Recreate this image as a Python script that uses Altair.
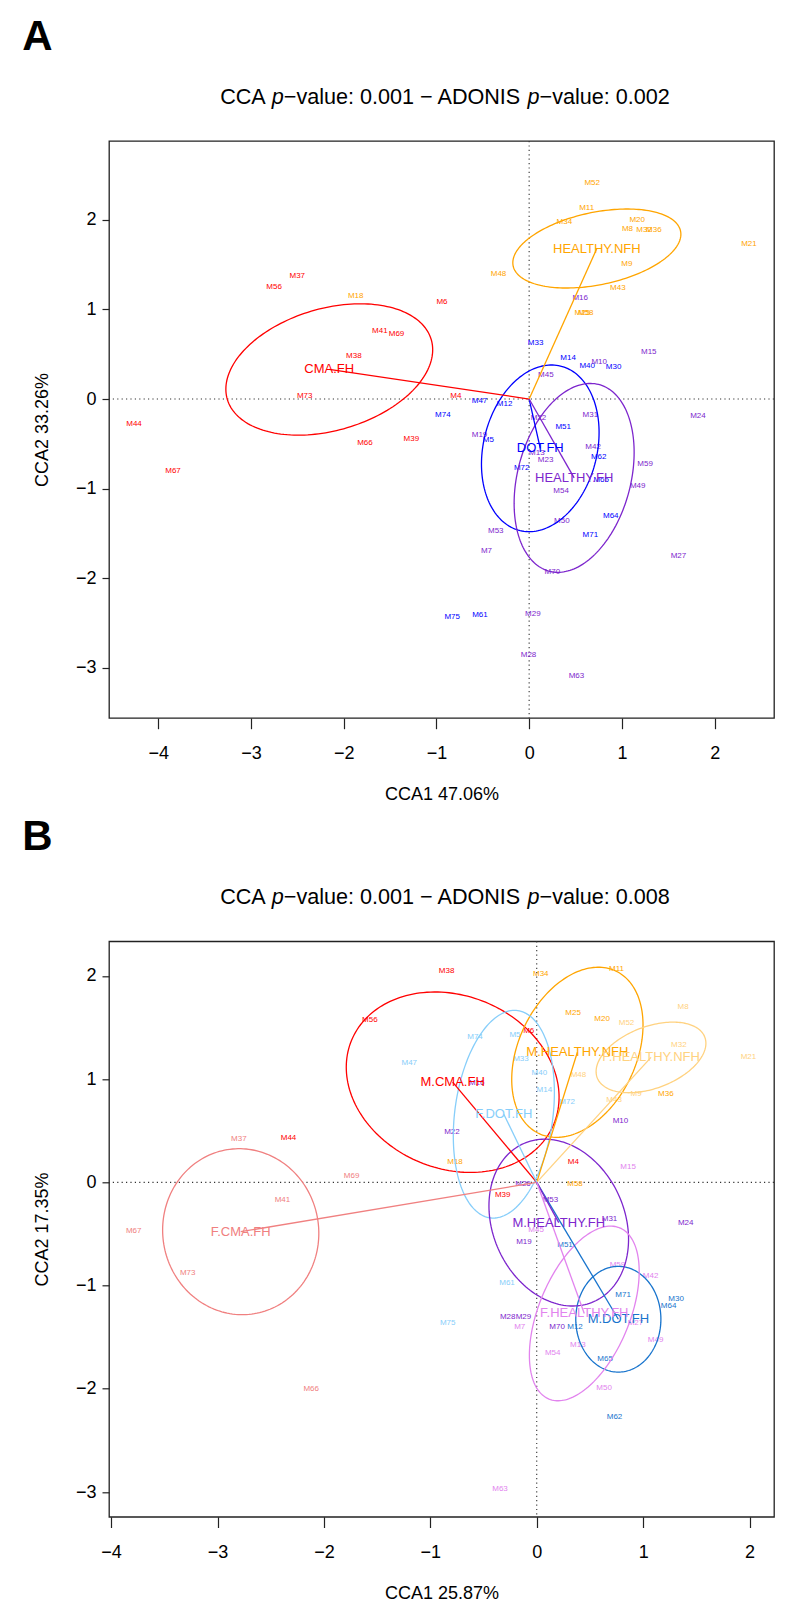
import altair as alt
import numpy as np
import pandas as pd

FONT = "Liberation Sans"

# ----------------------------------------------------------------------
# Panel A : four groups
# ----------------------------------------------------------------------
a_cma_names = ["M37", "M56", "M6", "M41", "M69", "M38", "M73", "M44", "M67", "M66", "M39", "M4"]
a_cma_x = [-2.50, -2.75, -0.94, -1.61, -1.43, -1.89, -2.42, -4.26, -3.84, -1.77, -1.27, -0.79]
a_cma_y = [1.37, 1.25, 1.08, 0.76, 0.73, 0.48, 0.03, -0.28, -0.80, -0.49, -0.45, 0.03]

a_nfh_names = ["M18", "M52", "M11", "M34", "M20", "M8", "M32", "M36", "M21", "M9", "M48", "M43", "M25", "M58"]
a_nfh_x = [-1.87, 0.68, 0.62, 0.38, 1.165, 1.06, 1.24, 1.345, 2.37, 1.054, -0.33, 0.957, 0.574, 0.61]
a_nfh_y = [1.15, 2.41, 2.13, 1.98, 2.00, 1.90, 1.885, 1.885, 1.735, 1.51, 1.40, 1.24, 0.96, 0.96]

a_dot_names = ["M33", "M14", "M40", "M30", "M47", "M12", "M74", "M5", "M51", "M62", "M72", "M65",
               "M64", "M71", "M75", "M61"]
a_dot_x = [0.07, 0.42, 0.626, 0.91, -0.535, -0.265, -0.93, -0.44, 0.367, 0.75, -0.08, 0.777,
           0.88, 0.66, -0.83, -0.53]
a_dot_y = [0.625, 0.455, 0.37, 0.357, -0.026, -0.056, -0.18, -0.46, -0.31, -0.65, -0.77, -0.905,
           -1.30, -1.516, -2.43, -2.41]

a_hfh_names = ["M16", "M10", "M15", "M45", "M24", "M31", "M22", "M19", "M13", "M23", "M42", "M59",
               "M49", "M54", "M50", "M53", "M7", "M27", "M70", "M29", "M28", "M63"]
a_hfh_x = [0.55, 0.755, 1.29, 0.18, 1.82, 0.66, 0.10, -0.535, 0.083, 0.177, 0.69, 1.25,
           1.17, 0.345, 0.353, -0.36, -0.46, 1.61, 0.25, 0.04, -0.007, 0.51]
a_hfh_y = [1.13, 0.417, 0.525, 0.265, -0.19, -0.18, -0.21, -0.40, -0.60, -0.68, -0.53, -0.726,
           -0.97, -1.025, -1.36, -1.47, -1.70, -1.754, -1.93, -2.40, -2.86, -3.09]

# group centroid, half x-extent, half y-extent and correlation of each ellipse
a_groups = ["CMA.FH", "HEALTHY.NFH", "DOT.FH", "HEALTHY.FH"]
a_colors = ["#FF0000", "#FFA500", "#0000FF", "#7D26CD"]
a_cx = [-2.155, 0.73, 0.12, 0.485]
a_cy = [0.33, 1.68, -0.55, -0.88]
a_hx = [1.115, 0.906, 0.634, 0.647]
a_hy = [0.733, 0.441, 0.93, 1.054]
a_r = [0.30, 0.36, 0.19, 0.27]

# ----------------------------------------------------------------------
# Panel B : eight groups (split by sex)
# ----------------------------------------------------------------------
b_mcma_names = ["M38", "M56", "M6", "M44", "M39", "M4"]
b_mcma_x = [-0.847, -1.568, -0.075, -2.333, -0.32, 0.345]
b_mcma_y = [2.045, 1.573, 1.47, 0.433, -0.12, 0.197]

b_fcma_names = ["M37", "M69", "M41", "M67", "M73", "M66"]
b_fcma_x = [-2.80, -1.74, -2.39, -3.788, -3.28, -2.12]
b_fcma_y = [0.423, 0.058, -0.174, -0.475, -0.879, -2.003]

b_mnfh_names = ["M34", "M11", "M25", "M20", "M36", "M18", "M58"]
b_mnfh_x = [0.038, 0.75, 0.342, 0.614, 1.214, -0.768, 0.36]
b_mnfh_y = [2.02, 2.064, 1.638, 1.58, 0.853, 0.194, -0.02]

b_fnfh_names = ["M52", "M8", "M32", "M21", "M48", "M43", "M9"]
b_fnfh_x = [0.844, 1.376, 1.336, 1.99, 0.392, 0.727, 0.934]
b_fnfh_y = [1.547, 1.70, 1.33, 1.21, 1.04, 0.80, 0.853]

b_fdot_names = ["M74", "M5", "M33", "M47", "M40", "M14", "M72", "M61", "M75"]
b_fdot_x = [-0.58, -0.204, -0.148, -1.198, 0.025, 0.072, 0.285, -0.279, -0.837]
b_fdot_y = [1.408, 1.427, 1.19, 1.156, 1.056, 0.894, 0.778, -0.979, -1.36]

b_mdot_names = ["M51", "M71", "M30", "M64", "M12", "M65", "M62"]
b_mdot_x = [0.266, 0.812, 1.31, 1.239, 0.36, 0.643, 0.731]
b_mdot_y = [-0.604, -1.088, -1.134, -1.20, -1.405, -1.712, -2.277]

b_mhfh_names = ["M16", "M10", "M22", "M26", "M53", "M31", "M19", "M24", "M28", "M29", "M70"]
b_mhfh_x = [-0.564, 0.787, -0.797, -0.129, 0.129, 0.684, -0.12, 1.40, -0.273, -0.125, 0.191]
b_mhfh_y = [0.962, 0.59, 0.484, -0.016, -0.168, -0.352, -0.578, -0.397, -1.308, -1.30, -1.405]

b_fhfh_names = ["M15", "M45", "M59", "M42", "M27", "M7", "M49", "M13", "M54", "M50", "M63"]
b_fhfh_x = [0.859, -0.006, 0.759, 1.07, 0.928, -0.16, 1.117, 0.386, 0.15, 0.633, -0.345]
b_fhfh_y = [0.148, -0.458, -0.80, -0.908, -1.363, -1.40, -1.525, -1.58, -1.65, -1.993, -2.975]

b_groups = ["M.CMA.FH", "F.CMA.FH", "M.HEALTHY.NFH", "F.HEALTHY.NFH",
            "F.DOT.FH", "M.DOT.FH", "M.HEALTHY.FH", "F.HEALTHY.FH"]
b_colors = ["#FF0000", "#F08080", "#FFA500", "#FFD280",
            "#87CEFA", "#1874CD", "#7D26CD", "#E284EE"]
b_cx = [-0.79, -2.782, 0.382, 1.074, -0.309, 0.767, 0.207, 0.447]
b_cy = [0.97, -0.478, 1.26, 1.21, 0.66, -1.326, -0.39, -1.27]
b_hx = [1.0, 0.734, 0.617, 0.516, 0.475, 0.40, 0.656, 0.516]
b_hy = [0.874, 0.804, 0.824, 0.342, 1.006, 0.512, 0.808, 0.846]
b_r = [-0.166, -0.02, 0.32, 0.40, 0.21, 0.0, -0.20, 0.48]


def samples_frame(parts):
    rows = []
    for group, names, xs, ys in parts:
        for n, x, y in zip(names, xs, ys):
            rows.append({"label": n, "x": x, "y": y, "group": group})
    return pd.DataFrame(rows)


def ellipse_frame(groups, cx, cy, hx, hy, r, n=181):
    t = np.linspace(0, 2 * np.pi, n)
    rows = []
    for g, x0, y0, a, b, rho in zip(groups, cx, cy, hx, hy, r):
        ex = x0 + a * np.cos(t)
        ey = y0 + b * (rho * np.cos(t) + np.sqrt(1 - rho ** 2) * np.sin(t))
        for i, (px, py) in enumerate(zip(ex, ey)):
            rows.append({"group": g, "i": i, "x": px, "y": py})
    return pd.DataFrame(rows)


def spider_frame(groups, cx, cy):
    rows = []
    for g, x0, y0 in zip(groups, cx, cy):
        rows.append({"group": g, "i": 0, "x": 0.0, "y": 0.0})
        rows.append({"group": g, "i": 1, "x": x0, "y": y0})
    return pd.DataFrame(rows)


# Liberation Sans advance widths (1/1000 em) for the title pieces
WIDTHS = {" ": 278, "C": 722, "A": 667, "p": 556, "\u2212": 584, "v": 500, "a": 556, "l": 222,
          "u": 556, "e": 556, ":": 278, "0": 556, "1": 556, "2": 556, "8": 556, ".": 278,
          "D": 722, "O": 778, "N": 722, "I": 278, "S": 667}


def text_width(s, size):
    return sum(WIDTHS[c] for c in s) / 1000 * size


def title_layers(adonis_p, center_x, y, size):
    parts = [("CCA ", "normal"), ("p", "italic"),
             ("\u2212value: 0.001 \u2212 ADONIS ", "normal"), ("p", "italic"),
             ("\u2212value: " + adonis_p, "normal")]
    total = sum(text_width(s, size) for s, _ in parts)
    x = center_x - total / 2
    layers = []
    one = pd.DataFrame({"k": [0]})
    for s, style in parts:
        layers.append(
            alt.Chart(one).mark_text(text=s.strip(), font=FONT, fontSize=size, fontStyle=style,
                                     align="left", baseline="middle", color="black")
            .encode(x=alt.value(x), y=alt.value(y))
        )
        x += text_width(s, size)
    return layers


def panel(samples, groups, colors, cx, cy, hx, hy, r, xdom, ydom, xtitle, ytitle,
          letter, adonis_p, w, h):
    xs = alt.Scale(domain=xdom, nice=False, zero=False)
    ys = alt.Scale(domain=ydom, nice=False, zero=False)
    cs = alt.Scale(domain=groups, range=colors)
    xaxis = alt.Axis(values=list(range(-4, 3)), format="d", grid=False, domain=False,
                     tickSize=10.7, tickColor="#222", tickWidth=1.2,
                     labelFont=FONT, labelFontSize=18, labelPadding=15.5, labelColor="black",
                     labelFlush=False, labelOverlap=False,
                     title=xtitle, titleFont=FONT, titleFontSize=18, titleFontWeight="normal",
                     titlePadding=23, titleColor="black")
    yaxis = alt.Axis(values=list(range(-3, 3)), format="d", grid=False, domain=False,
                     tickSize=7, tickColor="#222", tickWidth=1.2,
                     labelFont=FONT, labelFontSize=18, labelPadding=6, labelColor="black",
                     labelAngle=0, labelFlush=False, labelOverlap=False,
                     title=ytitle, titleFont=FONT, titleFontSize=18, titleFontWeight="normal",
                     titlePadding=24, titleColor="black")
    X = alt.X("x:Q", scale=xs, axis=xaxis)
    Y = alt.Y("y:Q", scale=ys, axis=yaxis)
    color = alt.Color("group:N", scale=cs, legend=None)

    zero = pd.DataFrame({"x": [0.0], "y": [0.0]})
    vline = alt.Chart(zero).mark_rule(color="#333", strokeDash=[1.2, 3.2], strokeWidth=1.1).encode(x=X)
    hline = alt.Chart(zero).mark_rule(color="#333", strokeDash=[1.2, 3.2], strokeWidth=1.1).encode(y=Y)

    pts = alt.Chart(samples).mark_text(font=FONT, fontSize=8).encode(
        x=X, y=Y, text="label:N", color=color)

    ell = alt.Chart(ellipse_frame(groups, cx, cy, hx, hy, r)).mark_line(strokeWidth=1.3).encode(
        x=X, y=Y, color=color, detail="group:N", order="i:Q")

    spider = alt.Chart(spider_frame(groups, cx, cy)).mark_line(strokeWidth=1.3).encode(
        x=X, y=Y, color=color, detail="group:N", order="i:Q")

    cen = pd.DataFrame({"group": groups, "x": cx, "y": cy})
    glab = alt.Chart(cen).mark_text(font=FONT, fontSize=13).encode(
        x=X, y=Y, text="group:N", color=color)

    one = pd.DataFrame({"k": [0]})
    let = alt.Chart(one).mark_text(text=letter, font=FONT, fontSize=42, fontWeight="bold",
                                   align="center", baseline="middle", color="black").encode(
        x=alt.value(-71.5), y=alt.value(-104))

    layers = [vline, hline, pts, ell, spider, glab, let] + title_layers(adonis_p, 336, -43.3, 21.6)
    return alt.layer(*layers).properties(width=w, height=h)


samples_a = samples_frame([
    ("CMA.FH", a_cma_names, a_cma_x, a_cma_y),
    ("HEALTHY.NFH", a_nfh_names, a_nfh_x, a_nfh_y),
    ("DOT.FH", a_dot_names, a_dot_x, a_dot_y),
    ("HEALTHY.FH", a_hfh_names, a_hfh_x, a_hfh_y),
])
samples_b = samples_frame([
    ("M.CMA.FH", b_mcma_names, b_mcma_x, b_mcma_y),
    ("F.CMA.FH", b_fcma_names, b_fcma_x, b_fcma_y),
    ("M.HEALTHY.NFH", b_mnfh_names, b_mnfh_x, b_mnfh_y),
    ("F.HEALTHY.NFH", b_fnfh_names, b_fnfh_x, b_fnfh_y),
    ("F.DOT.FH", b_fdot_names, b_fdot_x, b_fdot_y),
    ("M.DOT.FH", b_mdot_names, b_mdot_x, b_mdot_y),
    ("M.HEALTHY.FH", b_mhfh_names, b_mhfh_x, b_mhfh_y),
    ("F.HEALTHY.FH", b_fhfh_names, b_fhfh_x, b_fhfh_y),
])

chart_a = panel(samples_a, a_groups, a_colors, a_cx, a_cy, a_hx, a_hy, a_r,
                [-4.53, 2.64], [-3.56, 2.88], "CCA1 47.06%", "CCA2 33.26%", "A", "0.002", 665, 577)
chart_b = panel(samples_b, b_groups, b_colors, b_cx, b_cy, b_hx, b_hy, b_r,
                [-4.02, 2.23], [-3.24, 2.335], "CCA1 25.87%", "CCA2 17.35%", "B", "0.008", 665, 575.5)

chart = (
    alt.vconcat(chart_a, chart_b, spacing=223.3, bounds="flush")
    .resolve_scale(color="independent")
    .properties(padding={"left": 21, "top": 15, "right": 5, "bottom": 5}, background="white")
    .configure_view(stroke="#222", strokeWidth=1.3)
)

chart.save("out.html", embed_options={"renderer": "svg", "actions": False})
